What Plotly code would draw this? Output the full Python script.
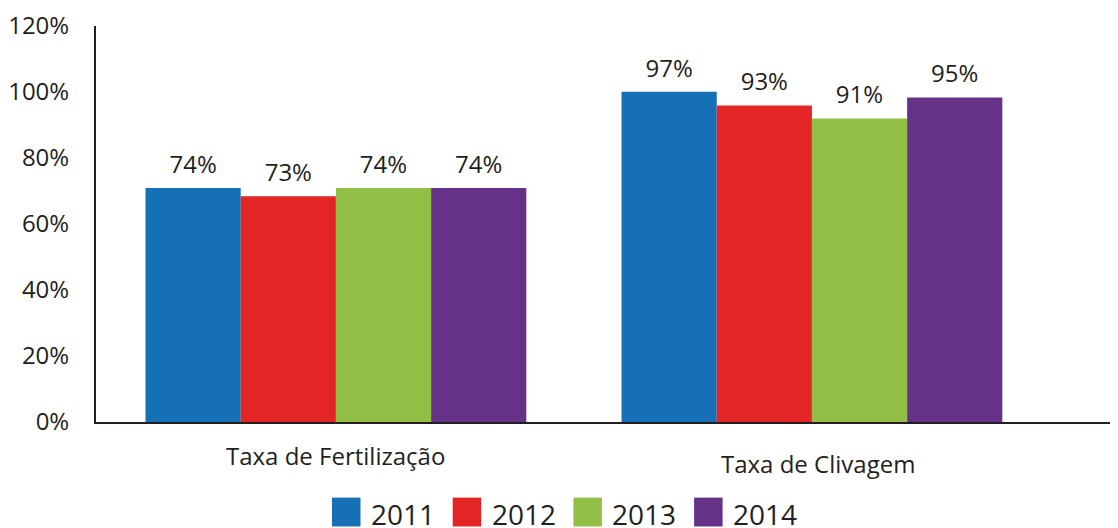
import plotly.graph_objects as go

# ---- data ----
categories = ["Taxa de Fertilização", "Taxa de Clivagem"]
years = ["2011", "2012", "2013", "2014"]
# bar heights as drawn against the axis (%)
heights_2011 = [70.9, 100.1]
heights_2012 = [68.4, 95.9]
heights_2013 = [70.9, 92.0]
heights_2014 = [70.9, 98.3]
# printed value labels
labels_2011 = ["74%", "97%"]
labels_2012 = ["73%", "93%"]
labels_2013 = ["74%", "91%"]
labels_2014 = ["74%", "95%"]
y_ticks = [0, 20, 40, 60, 80, 100, 120]

heights = [heights_2011, heights_2012, heights_2013, heights_2014]
labels = [labels_2011, labels_2012, labels_2013, labels_2014]

# ---- style ----
colors = ["#1570b5", "#e32526", "#92bf45", "#663287"]
FONT = "Open Sans"
INK = "#231f20"
VIEW_W, VIEW_H = 1118, 528
OFF = 8  # page body margin of the browser
W, H = VIEW_W - OFF, VIEW_H - OFF
# plot area in page pixels
PL, PR, PT, PB = 96, 1118, 24, 422


def px_x(p):
    return (p - PL) / (PR - PL)


def px_y(p):
    return (PB - p) / (PB - PT)


fig = go.Figure()
for yr, h, c in zip(years, heights, colors):
    fig.add_trace(go.Bar(x=categories, y=h, name=yr, marker=dict(color=c, line=dict(width=0)),
                         showlegend=False, hoverinfo="skip"))
for yr, h, t in zip(years, heights, labels):
    fig.add_trace(go.Scatter(x=categories, y=h, text=t, mode="markers+text", orientation="v",
                             marker=dict(size=13, opacity=0), textposition="top center",
                             textfont=dict(family=FONT, size=24, color=INK),
                             showlegend=False, hoverinfo="skip", cliponaxis=False))

annotations = []
# category labels (staggered as in the reference)
cat_y = [456, 464]
cat_shift = [0, 6]
for cat, yy, xs in zip(categories, cat_y, cat_shift):
    annotations.append(dict(x=cat, xref="x", y=px_y(yy), yref="paper", text=cat, showarrow=False,
                            xanchor="center", yanchor="middle", xshift=xs,
                            font=dict(family=FONT, size=24, color=INK)))

# legend drawn below the plot
shapes = []
leg_x0, leg_step, sq = 332, 120.7, 28.5
sq_top, sq_bot = 498, 527
for i, (yr, c) in enumerate(zip(years, colors)):
    x0 = leg_x0 + i * leg_step
    shapes.append(dict(type="rect", xref="paper", yref="paper",
                       x0=px_x(x0), x1=px_x(x0 + sq), y0=px_y(sq_bot), y1=px_y(sq_top),
                       fillcolor=c, line=dict(width=0), layer="above"))
    annotations.append(dict(x=px_x(x0 + 37), xref="paper", y=px_y(514), yref="paper", text=yr,
                            showarrow=False, xanchor="left", yanchor="middle",
                            font=dict(family=FONT, size=28, color=INK)))

fig.update_layout(
    width=W, height=H,
    margin=dict(l=PL - OFF, r=VIEW_W - PR, t=PT - OFF, b=VIEW_H - PB, pad=0),
    paper_bgcolor="white", plot_bgcolor="white",
    barmode="group", bargap=0.2, bargroupgap=0,
    scattermode="group", scattergap=0.2,
    showlegend=False,
    font=dict(family=FONT, color=INK),
    annotations=annotations, shapes=shapes,
    xaxis=dict(type="category", range=[-0.504, 1.643], showticklabels=False, ticks="",
               showgrid=False, zeroline=False, showline=True, linecolor=INK, linewidth=2),
    yaxis=dict(range=[0, 120], tickvals=y_ticks, ticktext=[f"{v}%" for v in y_ticks],
               showgrid=False, zeroline=False, showline=True, linecolor=INK, linewidth=2,
               ticks="", ticklabelstandoff=20, ticklabeloverflow="allow",
               tickfont=dict(family=FONT, size=24, color=INK)),
)

fig.write_html("out.html")
